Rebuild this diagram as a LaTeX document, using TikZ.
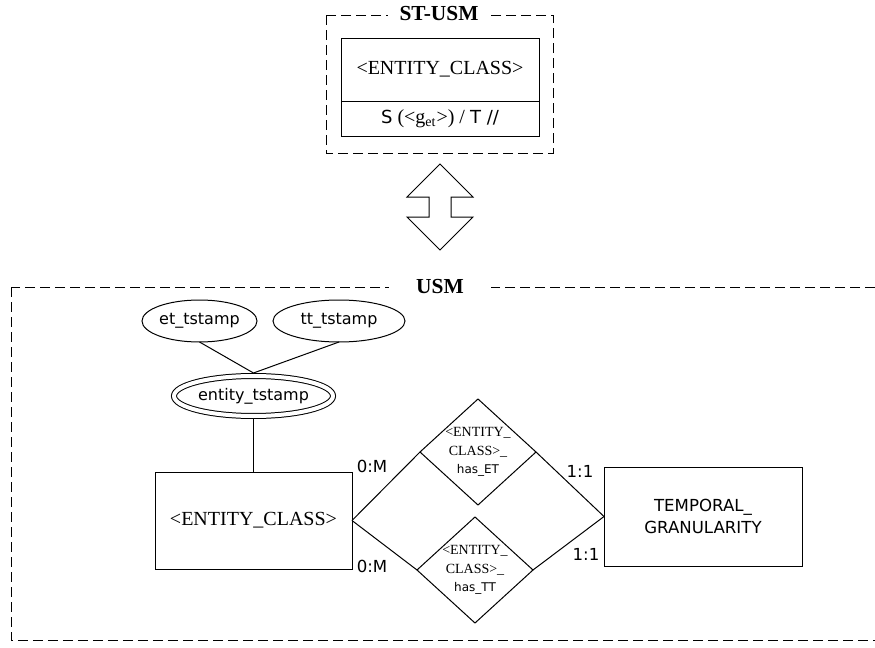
\documentclass[tikz,border=0pt]{standalone}
\usepackage{fontspec}
\setmainfont{Liberation Serif}
\newfontfamily\tahoma{DejaVu Sans}
\usetikzlibrary{shapes.geometric,positioning}

\begin{document}
\begin{tikzpicture}[x=0.5pt, y=-0.5pt,
  every node/.style={inner sep=0pt, outer sep=0pt},
  frame/.style={draw, line width=0.5pt, dash pattern=on 5pt off 2.5pt},
  frametitle/.style={fill=white, minimum width=51pt, minimum height=11pt,
    font=\fontsize{10.7}{12}\selectfont\bfseries},
  entity/.style={draw, line width=0.5pt, minimum width=99pt, font=\fontsize{10}{12}\selectfont},
  attr/.style={draw, ellipse, line width=0.5pt, minimum height=21pt,
    font=\tahoma\fontsize{8}{10}\selectfont},
  rel/.style={draw, diamond, line width=0.5pt, minimum width=58pt, minimum height=53pt},
  reltext/.style={align=center, font=\fontsize{7}{9.25}\selectfont},
  card/.style={font=\tahoma\fontsize{8.3}{10}\selectfont},
  link/.style={line width=0.5pt}]

\useasboundingbox (0,0) rectangle (875,648);

% ST-USM
\draw[frame] (326,15) rectangle (553,153);
\node[frametitle] (sttitle) at (439,14) {ST-USM};
\node[entity, minimum height=31.5pt] (stclass) at (440,69.5) {<ENTITY\_CLASS>};
\node[entity, minimum height=17.5pt, below=0pt of stclass] (stgran)
  {{\tahoma\fontsize{9}{11}\selectfont S} (<g\textsubscript{et}>) / {\tahoma\fontsize{9}{11}\selectfont T //}};

% equivalence arrow
\draw[link] (440,164) -- (473,197) -- (451,197) -- (451,217) -- (473,217) -- (440,250)
  -- (407,217) -- (429,217) -- (429,197) -- (407,197) -- cycle;

% USM
\draw[frame] (11,287) rectangle (885,640);
\node[frametitle] (usmtitle) at (440,287) {USM};

\node[attr, minimum width=57.5pt] (ettstamp) at (199.5,321) {et\_tstamp};
\node[attr, minimum width=66pt] (tttstamp) at (339,321) {tt\_tstamp};
\node[attr, double, double distance=2pt, outer sep=1.5pt, minimum width=79.5pt,
  minimum height=20pt] (enttstamp) at (253.5,396) {entity\_tstamp};

\node[entity, minimum width=98.5pt, minimum height=48.5pt] (entclass) at (253.5,520.5) {<ENTITY\_CLASS>};
\node[entity, minimum height=49.5pt, align=center, font=\tahoma\fontsize{8.3}{11}\selectfont]
  (tempgran) at (703,516.5) {TEMPORAL\_\\GRANULARITY};

\node[rel, label={[reltext]center:{<ENTITY\_\\CLASS>\_\\{\tahoma\fontsize{6}{9.25}\selectfont has\_ET}}}]
  (hasET) at (478,452) {};
\node[rel, label={[reltext]center:{<ENTITY\_\\CLASS>\_\\{\tahoma\fontsize{6}{9.25}\selectfont has\_TT}}}]
  (hasTT) at (475,570) {};

\draw[link] (ettstamp.south) -- (enttstamp.north);
\draw[link] (tttstamp.south) -- (enttstamp.north);
\draw[link] (enttstamp.south) -- (entclass.north);

\draw[link] (entclass.east) -- (hasET.west);
\draw[link] (hasET.east) -- (tempgran.west);
\draw[link] (entclass.east) -- (hasTT.west);
\draw[link] (hasTT.east) -- (tempgran.west);

\node[card] (cardETent) at (372,466) {0:M};
\node[card] (cardTTent) at (372,566) {0:M};
\node[card] (cardETgran) at (580,471) {1:1};
\node[card] (cardTTgran) at (586,554) {1:1};

\end{tikzpicture}
\end{document}
